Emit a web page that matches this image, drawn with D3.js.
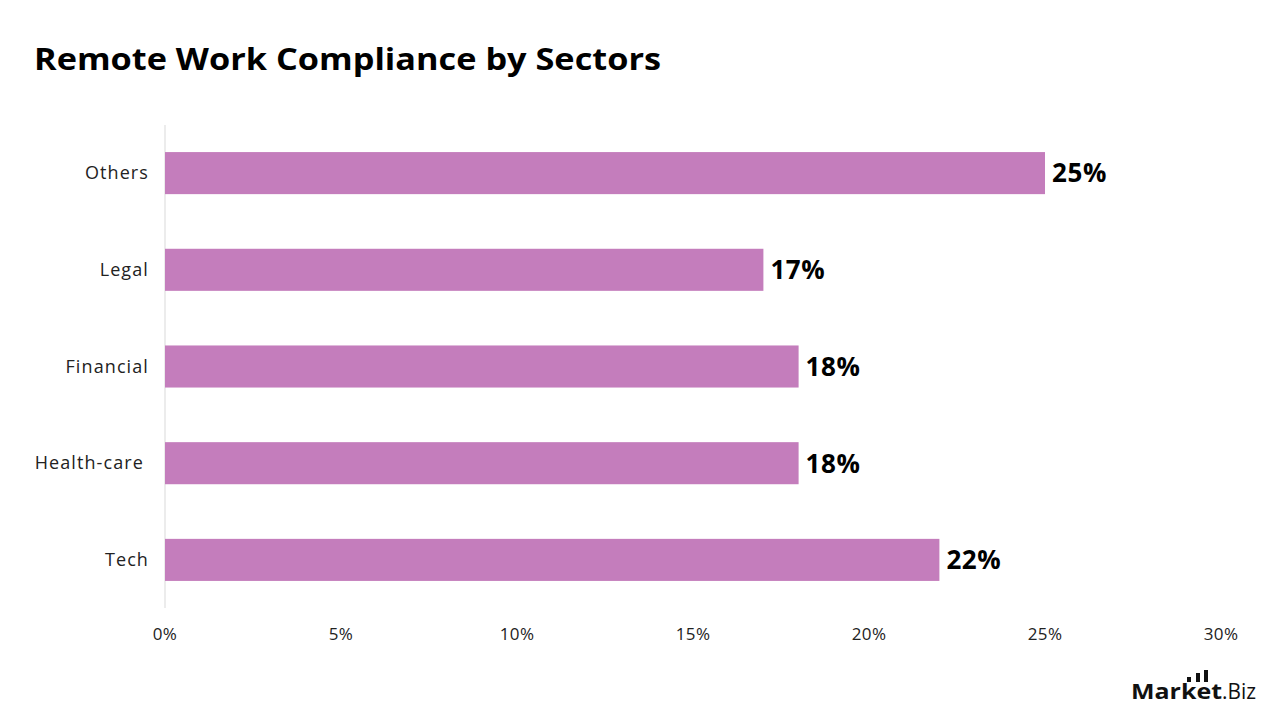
<!DOCTYPE html>
<html>
<head>
<meta charset="utf-8">
<script src="https://cdn.jsdelivr.net/npm/d3@7"></script>
<style>
  body { margin: 0; background: #fff; }
  svg { display: block; font-family: "Open Sans", "Noto Sans", sans-serif; }
</style>
</head>
<body>
<svg id="chart" width="1280" height="720"></svg>
<script>
// chart data
const sectors = ['Others', 'Legal', 'Financial', 'Health-care', 'Tech'];
const shares = [25, 17, 18, 18, 22];
const xTicks = [0, 5, 10, 15, 20, 25, 30];

const width = 1280, height = 720;
const margin = { top: 125, right: 59, bottom: 112, left: 165 };

const svg = d3.select('#chart');

// title
svg.append('text')
  .attr('x', 34).attr('y', 70)
  .attr('font-size', 30).attr('font-weight', 700)
  .attr('fill', '#000')
  .attr('textLength', 627).attr('lengthAdjust', 'spacingAndGlyphs')
  .text('Remote Work Compliance by Sectors');

const x = d3.scaleLinear()
  .domain([0, 30])
  .range([margin.left, width - margin.right]);

const y = d3.scaleBand()
  .domain(sectors)
  .range([margin.top, height - margin.bottom])
  .paddingInner(0.565)
  .paddingOuter(0.28);

// y axis line
svg.append('line')
  .attr('x1', x(0)).attr('x2', x(0))
  .attr('y1', margin.top).attr('y2', height - margin.bottom)
  .attr('stroke', '#d9d9d9').attr('stroke-width', 1);

// category labels
svg.selectAll('.cat')
  .data(sectors)
  .enter().append('text')
  .attr('class', 'cat')
  .attr('x', d => x(0) - 16 - (d === 'Health-care' ? 5 : 0))
  .attr('y', d => y(d) + y.bandwidth() / 2)
  .attr('dy', '0.35em')
  .attr('text-anchor', 'end')
  .attr('font-size', 18)
  .attr('letter-spacing', 1.1)
  .attr('fill', '#222')
  .text(d => d);

// bars
svg.selectAll('.bar')
  .data(sectors)
  .enter().append('rect')
  .attr('class', 'bar')
  .attr('x', x(0))
  .attr('y', d => y(d))
  .attr('width', (d, i) => x(shares[i]) - x(0))
  .attr('height', y.bandwidth())
  .attr('fill', '#c47dbc');

// value labels
svg.selectAll('.val')
  .data(sectors)
  .enter().append('text')
  .attr('class', 'val')
  .attr('x', (d, i) => x(shares[i]) + 7)
  .attr('y', d => y(d) + y.bandwidth() / 2)
  .attr('dy', '0.36em')
  .attr('font-size', 26)
  .attr('font-weight', 700)
  .attr('letter-spacing', 0.6)
  .attr('fill', '#000')
  .text((d, i) => shares[i] + '%');

// x tick labels
svg.selectAll('.tick')
  .data(xTicks)
  .enter().append('text')
  .attr('class', 'tick')
  .attr('x', d => x(d))
  .attr('y', 640)
  .attr('text-anchor', 'middle')
  .attr('font-size', 17)
  .attr('letter-spacing', 0.4)
  .attr('fill', '#222')
  .text(d => d + '%');

// logo
const logo = svg.append('g').attr('transform', 'translate(1131,699)');
logo.append('text')
  .attr('x', 0).attr('y', 0)
  .attr('font-size', 21).attr('font-weight', 700)
  .attr('fill', '#111')
  .attr('textLength', 91).attr('lengthAdjust', 'spacingAndGlyphs')
  .text('Market');
logo.append('text')
  .attr('x', 91).attr('y', 0)
  .attr('font-size', 21).attr('font-weight', 400)
  .attr('fill', '#111')
  .attr('textLength', 34).attr('lengthAdjust', 'spacingAndGlyphs')
  .text('.Biz');
[[56, 5], [65, 9], [73, 12]].forEach(([bx, bh]) => {
  logo.append('rect')
    .attr('x', bx).attr('y', -17 - bh)
    .attr('width', 4).attr('height', bh)
    .attr('fill', '#111');
});
</script>
</body>
</html>
